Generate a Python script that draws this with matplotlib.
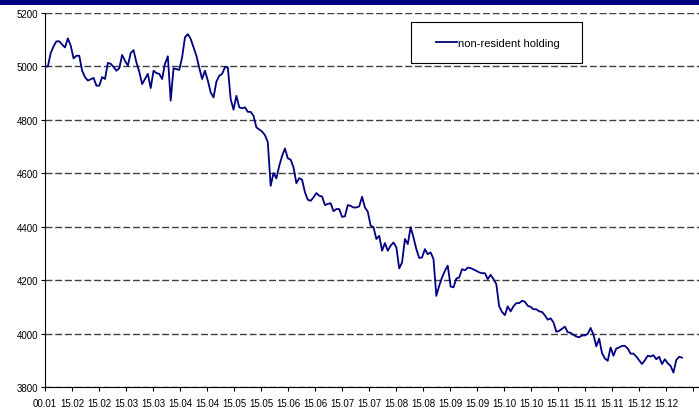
import numpy as np
import matplotlib
matplotlib.use('Agg')
from matplotlib import pyplot as plt
from matplotlib.patches import Rectangle

# ------------------------------------------------------------------
# Dados
# ------------------------------------------------------------------
serie_nome = 'non-resident holding'

holding = [
    5000, 5000, 5050, 5075, 5094, 5094, 5082, 5071, 5105, 5078,
    5030, 5040, 5040, 4984, 4960, 4947, 4952, 4957, 4928, 4928,
    4960, 4953, 5013, 5010, 4998, 4984, 4993, 5043, 5021, 5003,
    5050, 5061, 5015, 4980, 4934, 4953, 4972, 4919, 4984, 4975,
    4972, 4953, 5010, 5038, 4872, 4993, 4990, 4987, 5034, 5109,
    5121, 5103, 5072, 5040, 4995, 4953, 4984, 4947, 4903, 4884,
    4943, 4965, 4972, 4997, 4997, 4878, 4838, 4890, 4847, 4843,
    4847, 4830, 4830, 4815, 4772, 4764, 4756, 4743, 4716,
    4553, 4601, 4581, 4628, 4665, 4693,
    4656, 4651, 4622, 4563, 4582, 4576, 4529, 4501, 4497, 4510,
    4526, 4516, 4513, 4481, 4485, 4488, 4458, 4466, 4466, 4437,
    4439, 4481, 4478, 4472, 4472, 4476, 4512, 4472, 4456, 4404,
    4398, 4354, 4366, 4310, 4339, 4310, 4329, 4341, 4323, 4244,
    4266, 4354, 4335, 4398, 4360, 4316, 4283, 4285, 4316, 4297,
    4304, 4279, 4141, 4179, 4210, 4235, 4254, 4176, 4173, 4206,
    4210, 4241, 4237, 4247, 4245, 4240, 4235, 4229, 4226, 4226,
    4204, 4220, 4204, 4185,
    4102, 4081, 4069, 4102, 4083, 4102, 4114, 4114, 4123, 4119,
    4104, 4100, 4091, 4091, 4083, 4081, 4068, 4052, 4057, 4042,
    4007, 4010, 4018, 4026, 4005, 4003, 3995, 3989, 3986, 3993,
    3993, 3999, 4021, 3996, 3952, 3981, 3927, 3907, 3898, 3948,
    3917, 3944, 3948, 3954, 3954, 3944, 3925, 3925, 3914, 3900,
    3886, 3900, 3917, 3914, 3919, 3904, 3913, 3886, 3904, 3889,
    3879, 3854, 3901, 3913, 3910,
]

rotulos_x = ['00.01', '15.02', '15.02', '15.03', '15.03', '15.04', '15.04',
             '15.05', '15.05', '15.06', '15.06', '15.07', '15.07', '15.08',
             '15.08', '15.09', '15.09', '15.10', '15.10', '15.11', '15.11',
             '15.11', '15.12', '15.12', '']

ticks_y = [3800, 4000, 4200, 4400, 4600, 4800, 5000, 5200]

# ------------------------------------------------------------------
# Figura
# ------------------------------------------------------------------
plt.rcParams['font.family'] = ['Liberation Sans', 'DejaVu Sans']

W, H = 699, 410
fig = plt.figure(figsize=(W / 100, H / 100), dpi=100)

# faixa azul no topo
fig.add_artist(Rectangle((0, 1 - 6 / H), 1, 6 / H, transform=fig.transFigure,
                         facecolor='#000080', edgecolor='none'))

ax = fig.add_axes([45 / W, (H - 388) / H, (W - 45) / W, 374 / H])

n = len(holding)
x = np.arange(n)
passo = 637 / (n - 1)          # pixels por ponto
xmax = (W - 45) / passo
ax.plot(x, holding, color='#000080', lw=1.3, label=serie_nome, zorder=3)

ax.set_xlim(0, xmax)
ax.set_ylim(3800, 5200)
ax.set_yticks(ticks_y)
ax.set_yticklabels([str(v) for v in ticks_y], fontsize=7)
ax.set_xticks(np.arange(len(rotulos_x)) * 27 / passo)
ax.set_xticklabels(rotulos_x, fontsize=7)

ax.grid(axis='y', color='#404040', lw=1, linestyle=(0, (5, 2)))
ax.set_axisbelow(True)
for s in ['top', 'right']:
    ax.spines[s].set_visible(False)
ax.spines['left'].set_color('black')
ax.spines['bottom'].set_color('black')
ax.tick_params(axis='both', direction='out', length=3, width=0.8, color='black')
ax.tick_params(axis='y', pad=2)
ax.tick_params(axis='x', pad=5)

# legenda com moldura retangular
fig.add_artist(Rectangle((411 / W, (H - 64) / H), 171 / W, 41 / H,
                         transform=fig.transFigure, facecolor='white',
                         edgecolor='black', lw=0.8, zorder=5))
leg = fig.legend(loc='center', bbox_to_anchor=(498 / W, (H - 44) / H),
                 frameon=False, fontsize=8, handlelength=1.9,
                 handletextpad=0.1)
leg.set_zorder(6)

plt.savefig('out.png', dpi=100)
